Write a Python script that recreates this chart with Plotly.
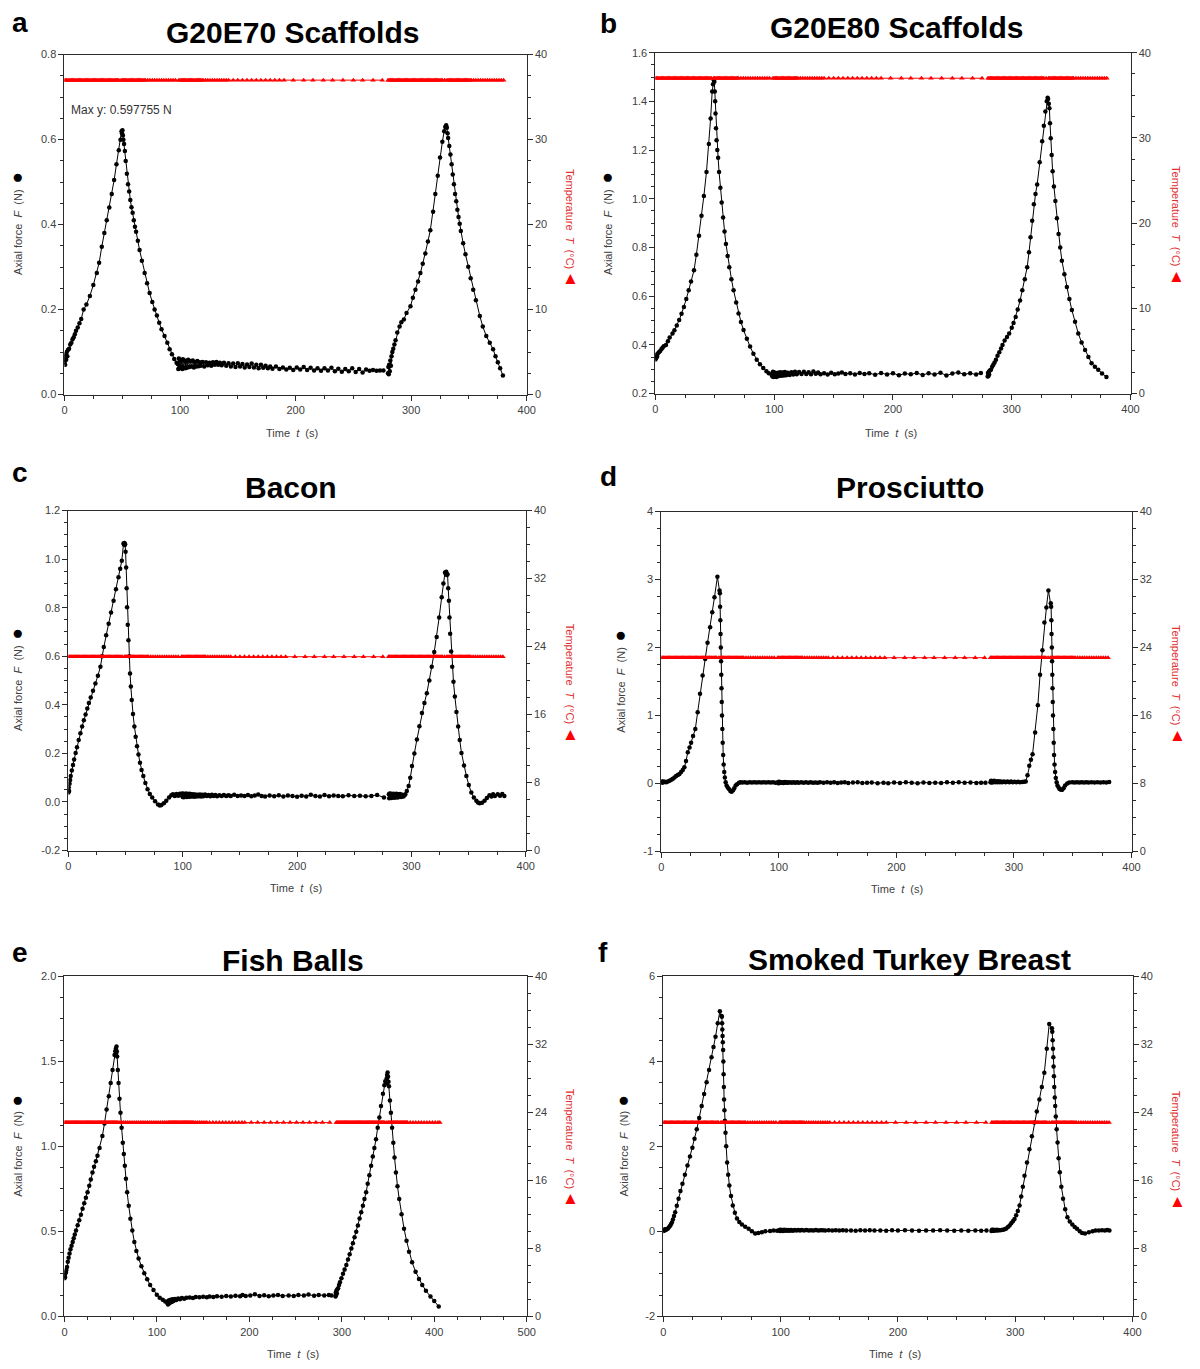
import plotly.graph_objects as go

W, H = 1200, 1369
PAGE_MARGIN = 8          # default body margin of the html page
FIG_W, FIG_H = W - 2 * PAGE_MARGIN, H - 2 * PAGE_MARGIN

# ---------------- data ----------------
TEMP_SCAFFOLD = 37.0   # degC, panels a and b
TEMP_FOOD = 22.8       # degC, panels c - f

# sample times of the temperature log (s), 400 s protocol
TEMP_T1 = [0, 1, 2, 3, 4, 5, 6, 7, 8, 9, 10, 11, 12, 13, 14, 15, 16, 17, 18, 19, 20, 21, 22, 23,
           24, 25, 26, 27, 28, 29, 30, 31, 32, 33, 34, 35, 36, 37, 38, 39, 40, 41, 42, 43, 44, 45,
           46, 47, 49, 50, 51, 52, 53, 54, 55, 56, 57, 58, 59, 60, 61, 62, 63, 64, 65, 66, 67, 68,
           69, 70, 72, 74, 76, 78, 80, 82, 84, 86, 88, 90, 92, 94, 96, 99, 100, 101, 102, 103, 104,
           105, 106, 107, 108, 109, 110, 111, 112, 113, 114, 115, 116, 117, 118, 119, 120, 122, 124,
           126, 128, 130, 132, 134, 136, 138, 140, 142, 146, 150, 154, 158, 162, 166, 170, 174, 178,
           182, 186, 190, 198, 207, 215, 224, 232, 241, 250, 258, 267, 275]
TEMP_T2 = [280, 281, 282, 283, 284, 285, 286, 287, 288, 289, 290, 291, 292, 293, 294, 295, 296,
           297, 298, 299, 300, 301, 302, 303, 304, 305, 306, 307, 308, 309, 310, 311, 312, 313, 314,
           315, 316, 317, 318, 319, 320, 321, 322, 323, 324, 325, 326, 327, 329, 331, 332, 333, 334,
           335, 336, 337, 338, 339, 340, 341, 342, 343, 344, 345, 346, 347, 348, 349, 350, 351, 352,
           354, 356, 358, 360, 362, 364, 366, 368, 370, 372, 374, 376, 378, 380]
# temperature log for the fish balls run (500 s axis)
FB_TEMP_T1 = [0, 1, 2, 3, 4, 5, 6, 7, 8, 9, 10, 11, 12, 13, 14, 15, 16, 17, 18, 19, 20, 21, 22, 23,
              24, 25, 26, 27, 28, 29, 30, 31, 32, 33, 34, 35, 36, 37, 38, 39, 40, 41, 42, 43, 44, 45,
              46, 47, 48, 49, 50, 51, 52, 53, 54, 55, 56, 57, 58, 60, 62, 64, 66, 68, 70, 72, 74, 76,
              78, 80, 82, 84, 86, 88, 90, 92, 94, 96, 98, 100, 102, 104, 106, 108, 110, 112, 113, 114,
              115, 116, 117, 118, 119, 120, 121, 122, 123, 124, 125, 126, 127, 128, 129, 130, 131, 132,
              133, 134, 135, 136, 137, 138, 139, 140, 142, 144, 146, 148, 150, 152, 154, 157, 160.5,
              164, 167.5, 171, 174.5, 178, 181.5, 185, 188.5, 192, 195, 202, 209, 216, 223, 230, 237,
              244, 251, 258, 265, 272, 279, 287]
FB_TEMP_T2 = [294, 295, 296, 297, 298, 299, 300, 301, 302, 303, 304, 305, 306, 307, 308, 309, 310,
              311, 312, 313, 314, 315, 316, 317, 318, 319, 320, 321, 322, 323, 324, 325, 326, 327, 328,
              329, 330, 331, 332, 333, 334, 335, 336, 337, 338, 339, 340, 341, 342, 343, 344, 345, 346,
              348, 350, 351, 352, 353, 354, 355, 356, 357, 358, 359, 360, 361, 362, 363, 364, 365, 366,
              367, 368, 369, 370, 371, 374, 377, 380, 383, 386, 389, 392, 395, 398, 401, 404, 406]

# axial force (t [s], F [N]); each run = loading cycle 1 + hold, then cycle 2
A_CYCLE1 = [(0, 0.076), (0.3, 0.09), (0.6, 0.07), (1, 0.095), (1.5, 0.082), (2, 0.1), (2.5, 0.09),
            (3, 0.105), (4, 0.108), (5, 0.118), (6, 0.122), (7, 0.13), (8, 0.135), (9, 0.142),
            (10, 0.15), (11.5, 0.158), (13, 0.168), (14.5, 0.178), (16.6, 0.2), (19, 0.212),
            (22, 0.232), (25, 0.258), (28, 0.286), (30, 0.31), (32.3, 0.348), (34.5, 0.38),
            (36.6, 0.41), (38.8, 0.44), (40.9, 0.472), (43, 0.505), (45, 0.542), (47, 0.575),
            (48.5, 0.6), (49.4, 0.62), (49.8, 0.615), (50.2, 0.622), (50.6, 0.61), (51, 0.6),
            (51.6, 0.59), (52.3, 0.573), (53, 0.55), (54, 0.52), (55, 0.495), (56, 0.478),
            (57, 0.458), (58, 0.441), (59, 0.428), (60, 0.41), (61, 0.395), (62, 0.383),
            (63.5, 0.362), (65, 0.34), (67, 0.315), (69.4, 0.286), (71.5, 0.262), (73.7, 0.239),
            (76, 0.218), (78, 0.2), (80, 0.186), (82, 0.169), (84, 0.154), (86.6, 0.138),
            (89, 0.122), (91, 0.107), (93, 0.095), (95, 0.084), (97, 0.075), (98, 0.072)]
A_HOLD = [(98.5, 0.06), (99, 0.085), (99.5, 0.062), (100, 0.082), (100.5, 0.065), (101, 0.08),
          (102, 0.06), (102.5, 0.083), (103, 0.064), (104, 0.08), (104.5, 0.062), (105, 0.078),
          (106, 0.063), (107, 0.082), (108, 0.065), (109, 0.079), (110, 0.066), (111, 0.08),
          (112, 0.064), (113, 0.077), (114, 0.066), (115, 0.079), (116, 0.067), (117, 0.076),
          (118, 0.068), (119.5, 0.077), (121, 0.066), (122.5, 0.076), (124, 0.069), (125.5, 0.075),
          (127, 0.068), (128.5, 0.076), (130, 0.07), (131.5, 0.077), (133, 0.07), (134.5, 0.075),
          (136, 0.069), (138, 0.075), (140, 0.068), (142, 0.074), (144, 0.066), (146, 0.073),
          (148, 0.065), (150, 0.074), (152, 0.066), (154, 0.072), (156, 0.064), (158, 0.071),
          (160, 0.065), (162, 0.073), (164, 0.064), (166, 0.07), (168, 0.062), (170, 0.07),
          (172, 0.063), (174, 0.068), (176, 0.062), (178, 0.066), (180, 0.061), (183, 0.066),
          (186, 0.06), (189, 0.064), (192, 0.059), (195, 0.063), (198, 0.058), (201, 0.064),
          (204, 0.059), (207, 0.065), (210, 0.058), (213, 0.063), (216, 0.057), (219, 0.062),
          (222, 0.056), (225, 0.062), (228, 0.057), (231, 0.063), (234, 0.055), (237, 0.061),
          (240, 0.054), (243, 0.06), (246, 0.055), (249, 0.062), (252, 0.053), (255, 0.06),
          (258, 0.052), (261, 0.059), (264, 0.056), (267, 0.058), (270, 0.056), (273, 0.057),
          (276, 0.057)]
A_CYCLE2 = [(280, 0.05), (280.3, 0.065), (280.6, 0.048), (281, 0.07), (281.5, 0.055), (282, 0.08),
            (282.5, 0.068), (283, 0.09), (283.7, 0.1), (284.5, 0.108), (285.5, 0.118),
            (286.5, 0.128), (288, 0.146), (290, 0.16), (291.5, 0.17), (293.7, 0.177), (296, 0.192),
            (299.4, 0.208), (301.5, 0.228), (303.7, 0.247), (306, 0.266), (308, 0.286),
            (310, 0.308), (312.3, 0.332), (314.5, 0.36), (316.6, 0.387), (319, 0.43),
            (320.9, 0.472), (323, 0.515), (325, 0.558), (327, 0.595), (328.6, 0.62), (329.5, 0.63),
            (330.3, 0.634), (330.9, 0.628), (331.5, 0.615), (332, 0.604), (333, 0.585),
            (334, 0.565), (335, 0.542), (336, 0.518), (337, 0.495), (338, 0.472), (339, 0.455),
            (340, 0.435), (341, 0.418), (342, 0.402), (343, 0.385), (345, 0.356), (347, 0.33),
            (349.4, 0.301), (351.5, 0.274), (353.7, 0.247), (356, 0.222), (359.4, 0.185),
            (362, 0.16), (365, 0.138), (368, 0.122), (370.9, 0.107), (373, 0.09), (375, 0.076),
            (377, 0.062), (379.4, 0.045)]

B_CYCLE1 = [(0, 0.34), (0.3, 0.355), (0.6, 0.345), (1, 0.36), (1.5, 0.352), (2, 0.365), (3, 0.37),
            (4, 0.375), (5, 0.382), (6, 0.388), (7, 0.394), (8.9, 0.4), (10.5, 0.415), (12, 0.43),
            (14.4, 0.447), (16, 0.46), (18, 0.48), (20, 0.502), (22, 0.528), (24, 0.556),
            (26, 0.588), (28, 0.624), (30, 0.66), (32.5, 0.706), (34.5, 0.77), (36.7, 0.848),
            (38.8, 0.93), (40.8, 1.011), (43, 1.11), (45, 1.225), (46.5, 1.33), (47.8, 1.44),
            (48.5, 1.47), (49.2, 1.487), (49.6, 1.48), (50, 1.44), (50.3, 1.4), (50.6, 1.35),
            (51, 1.29), (51.5, 1.24), (52.1, 1.2), (52.8, 1.168), (53.6, 1.11), (54.7, 1.045),
            (55.8, 0.985), (57, 0.923), (58.2, 0.866), (59.4, 0.814), (60.8, 0.765), (62.2, 0.719),
            (64, 0.67), (65.8, 0.624), (68, 0.574), (70, 0.529), (72, 0.494), (74.2, 0.461),
            (77, 0.425), (79.7, 0.393), (82.5, 0.364), (85.3, 0.339), (88, 0.32), (90.8, 0.305),
            (93.5, 0.292), (95.5, 0.284), (97.8, 0.277)]
B_HOLD = [(98.5, 0.27), (99, 0.29), (99.5, 0.268), (100, 0.287), (100.5, 0.27), (101, 0.285),
          (102, 0.268), (103, 0.286), (104, 0.272), (105, 0.288), (106, 0.273), (107, 0.287),
          (108, 0.274), (109, 0.289), (110, 0.275), (111.5, 0.286), (113, 0.276), (114.5, 0.288),
          (116, 0.278), (117.5, 0.29), (119, 0.279), (121, 0.289), (123, 0.28), (125, 0.29),
          (127, 0.28), (129, 0.288), (131, 0.279), (133, 0.291), (135, 0.281), (137, 0.287),
          (139, 0.279), (142, 0.284), (145, 0.278), (148, 0.286), (151, 0.279), (154, 0.283),
          (157, 0.287), (160, 0.28), (164, 0.284), (168, 0.278), (172, 0.285), (176, 0.28),
          (180, 0.284), (185, 0.277), (190, 0.285), (195, 0.278), (200, 0.284), (205, 0.275),
          (210, 0.283), (215, 0.279), (220, 0.285), (225, 0.276), (230, 0.284), (235, 0.278),
          (240, 0.286), (245, 0.274), (250, 0.283), (255, 0.287), (260, 0.279), (265, 0.284),
          (270, 0.278), (274, 0.285)]
B_CYCLE2 = [(279.7, 0.27), (280, 0.285), (280.3, 0.272), (280.7, 0.29), (281, 0.278),
            (281.5, 0.295), (282.5, 0.298), (283.5, 0.31), (284.5, 0.318), (285.5, 0.328),
            (286.7, 0.339), (288, 0.355), (289.5, 0.37), (291, 0.385), (292.2, 0.4), (294, 0.418),
            (296, 0.432), (297.8, 0.447), (300, 0.47), (301.5, 0.49), (303.3, 0.515),
            (305, 0.545), (307, 0.582), (308.9, 0.624), (311, 0.67), (313, 0.719), (314.5, 0.78),
            (315.8, 0.842), (317.2, 0.91), (318.6, 0.977), (320, 1.02), (321.4, 1.059),
            (323.5, 1.15), (325.6, 1.236), (327, 1.3), (328.3, 1.358), (329.5, 1.4),
            (330.2, 1.415), (330.6, 1.41), (331.2, 1.39), (331.7, 1.372), (332.2, 1.31),
            (332.8, 1.249), (333.6, 1.18), (334.4, 1.113), (335.5, 1.05), (336.7, 0.991),
            (338, 0.92), (339.4, 0.855), (340.8, 0.8), (342.2, 0.746), (344.3, 0.69),
            (346.4, 0.638), (348.5, 0.588), (350.6, 0.543), (353.3, 0.495), (356, 0.447),
            (358.8, 0.41), (361.7, 0.379), (364.5, 0.35), (367.2, 0.325), (370, 0.31),
            (372.8, 0.298), (376, 0.283), (379.7, 0.268)]

C_CYCLE1 = [(0, 0.039), (0.3, 0.06), (0.6, 0.045), (1, 0.075), (1.5, 0.09), (2, 0.107), (3, 0.13),
            (4, 0.152), (5, 0.175), (6.3, 0.202), (7.5, 0.225), (9, 0.255), (10.5, 0.283),
            (12, 0.311), (13.5, 0.336), (15, 0.36), (16.5, 0.385), (17.9, 0.407), (19.5, 0.43),
            (21.5, 0.458), (23.6, 0.488), (25.8, 0.52), (28, 0.557), (29.5, 0.6), (30.9, 0.638),
            (33, 0.686), (35.2, 0.734), (37.3, 0.78), (39.5, 0.829), (41.6, 0.876), (43.8, 0.925),
            (45.3, 0.96), (46.7, 0.993), (48.2, 1.064), (48.6, 1.06), (49, 1.066), (49.3, 1.058),
            (49.6, 1.061), (50, 1.03), (50.5, 0.966), (50.9, 0.88), (51.3, 0.802), (51.9, 0.73),
            (52.5, 0.666), (53.2, 0.6), (53.9, 0.529), (54.6, 0.475), (55.4, 0.42), (56.5, 0.362),
            (57.7, 0.311), (58.8, 0.268), (60, 0.229), (61.3, 0.195), (62.6, 0.161), (64, 0.132),
            (65.5, 0.107), (67.3, 0.078), (69.2, 0.052), (71.2, 0.033), (73.3, 0.018),
            (75.8, 0.003), (78.4, -0.01), (80, -0.015), (81.3, -0.013), (83.5, -0.005),
            (85.6, 0.005), (88, 0.018), (90, 0.028), (91.4, 0.032), (93, 0.025), (94.5, 0.033),
            (96, 0.026), (97.5, 0.034), (98.6, 0.028)]
C_HOLD = [(99.5, 0.035), (100, 0.02), (100.5, 0.034), (101, 0.019), (101.5, 0.033), (102, 0.021),
          (103, 0.035), (103.5, 0.02), (104, 0.032), (105, 0.022), (105.5, 0.034), (106, 0.021),
          (107, 0.033), (108, 0.022), (109, 0.032), (110, 0.021), (111, 0.031), (112, 0.022),
          (113, 0.03), (114, 0.023), (115, 0.031), (116, 0.022), (117, 0.03), (118, 0.023),
          (119.5, 0.031), (121, 0.024), (122.5, 0.029), (124, 0.023), (125.5, 0.03), (127, 0.024),
          (128.5, 0.029), (130, 0.023), (132, 0.028), (134, 0.024), (136, 0.029), (138, 0.024),
          (140, 0.028), (142, 0.024), (145, 0.03), (148, 0.024), (151, 0.027), (154, 0.024),
          (157, 0.029), (160, 0.023), (163, 0.027), (166, 0.031), (169, 0.025), (172, 0.022),
          (176, 0.027), (180, 0.023), (184, 0.028), (188, 0.022), (192, 0.027), (196, 0.024),
          (200, 0.021), (204, 0.026), (208, 0.022), (212, 0.03), (216, 0.024), (220, 0.022),
          (224, 0.029), (228, 0.023), (232, 0.027), (236, 0.025), (240, 0.023), (245, 0.028),
          (250, 0.024), (255, 0.026), (260, 0.023), (265, 0.025), (270, 0.029), (276, 0.018)]
C_CYCLE2 = [(280.3, 0.032), (280.6, 0.015), (281, 0.035), (281.5, 0.018), (282, 0.034),
            (282.5, 0.016), (283, 0.033), (283.7, 0.019), (284.3, 0.034), (285, 0.017),
            (285.7, 0.033), (286.4, 0.019), (287, 0.034), (287.8, 0.018), (288.5, 0.032),
            (289.3, 0.02), (290, 0.033), (291, 0.02), (292, 0.03), (293, 0.022), (294, 0.028),
            (294.7, 0.032), (296, 0.045), (297.6, 0.066), (299, 0.1), (300.5, 0.148),
            (302.6, 0.2), (304.8, 0.257), (307, 0.312), (309.2, 0.366), (311.4, 0.408),
            (313.5, 0.448), (315.7, 0.5), (317.8, 0.557), (320, 0.618), (322.1, 0.679),
            (324.3, 0.76), (326.5, 0.843), (328, 0.9), (329.4, 0.945), (330, 0.94), (330.5, 0.948),
            (331, 0.935), (331.6, 0.938), (332.2, 0.88), (332.8, 0.829), (333.3, 0.76),
            (333.9, 0.693), (334.8, 0.62), (335.7, 0.557), (336.8, 0.495), (338, 0.434),
            (339.4, 0.37), (340.9, 0.311), (342.3, 0.255), (343.8, 0.202), (346, 0.15),
            (348.1, 0.107), (350.2, 0.07), (352.4, 0.039), (354.6, 0.018), (356.8, 0.005),
            (358.2, -0.002), (359.6, -0.005), (361.8, -0.003), (364, 0.005), (366, 0.016),
            (368.3, 0.028), (370, 0.022), (371.5, 0.032), (373, 0.025), (375.5, 0.032),
            (377.5, 0.026), (379.5, 0.033), (381.3, 0.025)]

D_CYCLE1 = [(0, 0.01), (0.5, 0.03), (1, 0.015), (1.5, 0.03), (2, 0.02), (3, 0.025), (4.2, 0.02),
            (5.5, 0.03), (7, 0.04), (8.5, 0.055), (9.8, 0.07), (11.2, 0.09), (12.6, 0.11),
            (14, 0.125), (15.4, 0.14), (16.8, 0.17), (18.2, 0.2), (19.6, 0.24), (21, 0.33),
            (22.5, 0.46), (24, 0.53), (25.3, 0.6), (27, 0.7), (28.9, 0.8), (30.9, 1.05),
            (32.9, 1.32), (35.1, 1.59), (37.3, 1.83), (39.3, 2.07), (41.5, 2.3), (43.3, 2.52),
            (45.2, 2.74), (47.7, 3.04), (49.5, 2.84), (49.8, 2.8), (50, 2.6), (50.2, 2.4),
            (50.4, 2.2), (50.6, 2.0), (50.8, 1.8), (51, 1.6), (51.2, 1.4), (51.4, 1.2), (51.6, 1.0),
            (51.9, 0.8), (52.2, 0.6), (52.6, 0.42), (53, 0.28), (53.5, 0.17), (54, 0.09),
            (54.7, 0.02), (55.5, -0.03), (56.5, -0.06), (57.5, -0.08), (58.7, -0.11),
            (59.8, -0.12), (61, -0.1), (62, -0.07), (63.2, -0.03), (64.5, -0.01), (66, 0.01),
            (67.4, 0.02), (69, 0.015), (71, 0.02), (73, 0.012), (75, 0.02), (77, 0.015),
            (79, 0.02), (81, 0.015), (83, 0.018), (85, 0.014), (87, 0.02), (89, 0.016), (91, 0.02),
            (93, 0.014), (95, 0.018), (97, 0.012)]
D_HOLD = [(99, 0.02), (99.5, 0.005), (100, 0.025), (100.5, 0.008), (101, 0.022), (102, 0.01),
          (103, 0.02), (104, 0.008), (105, 0.022), (106, 0.01), (107, 0.02), (108, 0.01),
          (109.5, 0.02), (111, 0.012), (112.5, 0.02), (114, 0.01), (115.5, 0.018), (117, 0.012),
          (119, 0.02), (121, 0.01), (123, 0.018), (125, 0.012), (127, 0.02), (129, 0.01),
          (131, 0.016), (133, 0.012), (135, 0.02), (138, 0.01), (141, 0.017), (144, 0.012),
          (147, 0.02), (150, 0.008), (153, 0.015), (156, 0.018), (159, 0.008), (163, 0.014),
          (167, 0.018), (171, 0.006), (175, 0.012), (179, 0.016), (184, 0.005), (189, 0.012),
          (193, 0.004), (198, 0.015), (203, 0.008), (208, 0.018), (213, 0.01), (218, 0.004),
          (223, 0.016), (228, 0.008), (233, 0.012), (238, 0.006), (243, 0.018), (248, 0.01),
          (253, 0.02), (258, 0.012), (263, 0.016), (268, 0.008), (272, 0.012), (275.7, 0.01)]
D_CYCLE2 = [(280, 0.02), (280.5, 0.04), (281, 0.015), (281.5, 0.035), (282, 0.02), (283, 0.04),
            (284, 0.02), (285, 0.035), (286, 0.02), (287, 0.035), (288, 0.02), (289, 0.03),
            (290, 0.02), (291.5, 0.03), (293, 0.018), (294.5, 0.03), (296, 0.02), (297.5, 0.028),
            (299, 0.018), (300.5, 0.025), (302, 0.02), (303.5, 0.025), (305, 0.02), (307, 0.022),
            (308.5, 0.025), (310, 0.03), (311.5, 0.12), (313, 0.26), (314.4, 0.35),
            (315.8, 0.43), (318, 0.75), (320.3, 1.15), (322.2, 1.6), (324.2, 1.96),
            (325.9, 2.37), (327.6, 2.59), (329.3, 2.84), (331.3, 2.65), (331.6, 2.6),
            (331.8, 2.4), (332, 2.2), (332.2, 2.0), (332.4, 1.8), (332.6, 1.6), (332.8, 1.4),
            (333, 1.2), (333.2, 1.0), (333.5, 0.8), (333.8, 0.6), (334.1, 0.42), (334.5, 0.28),
            (335, 0.17), (335.6, 0.08), (336.3, 0.02), (337, -0.03), (338, -0.06),
            (338.8, -0.08), (340, -0.09), (341, -0.09), (342.2, -0.07), (343.5, -0.03),
            (345.3, 0.0), (347, 0.015), (349.5, 0.02), (351.5, 0.015), (353.5, 0.02),
            (355.5, 0.014), (357.5, 0.02), (359.5, 0.015), (361.5, 0.02), (363.5, 0.016),
            (366, 0.02), (368.5, 0.015), (371, 0.02), (373.5, 0.014), (376, 0.02), (378.5, 0.016),
            (381, 0.022)]

E_CYCLE1 = [(0, 0.224), (0.3, 0.24), (0.6, 0.23), (1, 0.253), (1.5, 0.26), (2, 0.272),
            (2.8, 0.29), (3.6, 0.321), (4.5, 0.345), (5.5, 0.37), (6.5, 0.395), (7.7, 0.415),
            (8.9, 0.438), (10, 0.46), (11.2, 0.482), (12.5, 0.505), (14.3, 0.536), (16, 0.565),
            (17.8, 0.598), (19.6, 0.633), (21.4, 0.665), (23.2, 0.698), (25, 0.73), (26.8, 0.768),
            (28.5, 0.805), (30.3, 0.847), (32, 0.88), (34, 0.912), (35.7, 0.945), (38, 0.99),
            (41, 1.061), (43.3, 1.135), (45.6, 1.217), (48, 1.295), (50, 1.373), (52, 1.45),
            (54.2, 1.538), (55, 1.56), (55.6, 1.575), (56, 1.55), (56.3, 1.587), (56.6, 1.56),
            (57, 1.529), (57.7, 1.45), (58.5, 1.373), (59.5, 1.28), (60.6, 1.198), (61.8, 1.11),
            (63.1, 1.022), (64.2, 0.955), (65.3, 0.886), (66.5, 0.81), (67.8, 0.73), (69.5, 0.65),
            (71.3, 0.574), (73.4, 0.505), (75.6, 0.438), (77.8, 0.385), (80.2, 0.341),
            (83.2, 0.295), (86.3, 0.253), (89.5, 0.218), (92.7, 0.185), (96.3, 0.155),
            (99.9, 0.127), (103, 0.11), (106.3, 0.097), (109, 0.087), (111.3, 0.078)]
E_HOLD = [(112, 0.07), (112.5, 0.092), (113, 0.075), (113.5, 0.095), (114, 0.08), (115, 0.098),
          (116, 0.085), (117, 0.1), (118, 0.09), (119.5, 0.102), (121, 0.096), (123, 0.105),
          (125, 0.1), (127, 0.108), (129.5, 0.104), (132, 0.11), (135.5, 0.111), (139, 0.108),
          (142, 0.114), (146, 0.112), (150, 0.116), (154, 0.113), (157, 0.117), (161, 0.114),
          (165, 0.118), (170, 0.116), (175, 0.12), (180, 0.117), (185, 0.121), (190, 0.118),
          (192.6, 0.126), (196, 0.119), (201, 0.123), (206, 0.13), (211, 0.12), (216, 0.124),
          (221, 0.118), (226, 0.122), (231, 0.126), (236, 0.119), (242.5, 0.123), (248, 0.12),
          (253, 0.126), (259, 0.122), (264, 0.128), (270, 0.121), (275, 0.126), (281, 0.123),
          (286, 0.125), (288.9, 0.123)]
E_CYCLE2 = [(293.2, 0.117), (293.5, 0.14), (293.8, 0.125), (294.2, 0.15), (294.6, 0.135),
            (295, 0.158), (296, 0.166), (297, 0.185), (298, 0.2), (299.6, 0.224), (301.3, 0.25),
            (303, 0.275), (304.9, 0.302), (306.7, 0.335), (308.5, 0.365), (310.3, 0.399),
            (312, 0.43), (313.8, 0.465), (315.6, 0.497), (317.4, 0.535), (319.2, 0.575),
            (321, 0.613), (322.8, 0.65), (324.5, 0.69), (326.3, 0.73), (328, 0.78), (329.8, 0.83),
            (331.7, 0.886), (333.5, 0.94), (335.2, 0.99), (337, 1.042), (338.8, 1.11),
            (340.6, 1.17), (342.4, 1.237), (344.5, 1.31), (346, 1.36), (347, 1.383), (348, 1.37),
            (348.5, 1.4), (349, 1.42), (349.5, 1.435), (350, 1.41), (350.5, 1.38), (351, 1.353),
            (352, 1.27), (353.1, 1.198), (354.4, 1.11), (355.7, 1.022), (357, 0.935),
            (358.5, 0.847), (360.2, 0.765), (362.1, 0.691), (364.6, 0.6), (367.3, 0.516),
            (370, 0.445), (372.7, 0.38), (376, 0.318), (379.8, 0.263), (383.5, 0.22), (387, 0.185),
            (391, 0.15), (395.9, 0.117), (400, 0.09), (404.8, 0.058)]

F_CYCLE1 = [(0, 0.01), (0.5, 0.04), (1, 0.02), (1.5, 0.05), (2, 0.03), (2.8, 0.05), (3.7, 0.06),
            (4.6, 0.09), (5.5, 0.12), (6.4, 0.16), (7.3, 0.21), (8.2, 0.28), (9.1, 0.36),
            (10.1, 0.45), (11.5, 0.6), (13, 0.77), (14.6, 0.95), (16.3, 1.12), (18.4, 1.33),
            (20.6, 1.55), (22.7, 1.76), (24.8, 1.97), (26.6, 2.18), (28.5, 2.4), (30.6, 2.67),
            (32.7, 2.95), (34.8, 3.23), (36.9, 3.51), (39, 3.8), (41.1, 4.1), (42.8, 4.34),
            (44.5, 4.58), (46.4, 4.9), (48.2, 5.18), (49.6, 5.07), (49.9, 5.05), (50.1, 4.9),
            (50.3, 4.75), (50.5, 4.6), (50.7, 4.45), (51, 4.27), (51.2, 4.0), (51.4, 3.7),
            (51.6, 3.4), (51.8, 3.1), (52.1, 2.85), (52.5, 2.6), (53, 2.32), (53.6, 2.0),
            (54.4, 1.62), (55.3, 1.33), (56.3, 1.08), (57.7, 0.83), (59.2, 0.61), (61, 0.44),
            (62.8, 0.3), (64.8, 0.22), (67, 0.16), (69.8, 0.11), (72.7, 0.06), (75.5, 0.0),
            (78.3, -0.05), (81, -0.04), (84, -0.02), (87, 0.0), (91, 0.01), (94, 0.02),
            (97, 0.015)]
F_HOLD = [(99, 0.03), (99.5, 0.01), (100, 0.035), (100.5, 0.015), (101, 0.03), (102, 0.01),
          (103, 0.035), (104, 0.015), (105, 0.03), (106, 0.012), (107, 0.03), (108, 0.015),
          (109, 0.032), (110.5, 0.015), (112, 0.03), (113.5, 0.018), (115, 0.032), (116.5, 0.02),
          (118, 0.03), (120, 0.018), (122, 0.03), (124, 0.02), (126, 0.028), (128, 0.02),
          (130, 0.03), (132, 0.02), (134, 0.028), (136, 0.025), (138, 0.02), (141, 0.025),
          (144, 0.02), (147, 0.024), (150, 0.02), (153, 0.025), (156, 0.018), (160, 0.022),
          (164, 0.016), (168, 0.025), (172, 0.02), (176, 0.024), (180, 0.02), (185, 0.022),
          (190, 0.015), (195, 0.024), (200, 0.018), (206, 0.025), (212, 0.02), (218, 0.015),
          (224, 0.022), (230, 0.018), (236, 0.024), (242, 0.02), (248, 0.014), (254, 0.022),
          (260, 0.016), (266, 0.02), (271, 0.014), (275.5, 0.02)]
F_CYCLE2 = [(279.7, 0.01), (280.2, 0.04), (280.7, 0.015), (281.2, 0.035), (281.8, 0.015),
            (282.5, 0.03), (283.3, 0.02), (284.2, 0.035), (285, 0.02), (286, 0.03), (287, 0.025),
            (288.3, 0.03), (289.6, 0.04), (291, 0.05), (292.4, 0.07), (293.8, 0.1), (295.2, 0.14),
            (296.6, 0.19), (298, 0.24), (299.4, 0.29), (300.8, 0.38), (302.2, 0.48),
            (303.7, 0.61), (305.1, 0.82), (306.5, 1.05), (307.9, 1.31), (310, 1.62),
            (312.1, 1.93), (314.2, 2.24), (316.3, 2.56), (318.4, 2.82), (320.6, 3.1),
            (322.7, 3.4), (324.8, 3.73), (326.9, 4.3), (329, 4.88), (331.3, 4.78), (331.6, 4.7),
            (331.9, 4.5), (332.2, 4.3), (332.5, 4.1), (332.7, 3.88), (333, 3.65), (333.3, 3.4),
            (333.7, 3.15), (334.1, 2.95), (334.6, 2.7), (335.3, 2.4), (336.1, 2.09), (337, 1.72),
            (338, 1.39), (339.3, 1.05), (340.8, 0.77), (342.6, 0.52), (344.5, 0.33),
            (346.5, 0.23), (348.7, 0.16), (350.7, 0.1), (352.7, 0.06), (355, 0.0), (357, -0.04),
            (359.5, -0.05), (362.8, -0.02), (366, 0.0), (368.5, 0.02), (371.3, 0.02),
            (374, 0.025), (376.5, 0.02), (378.5, 0.03), (380.3, 0.02)]

# tick labels of the force axes that go below zero (plain hyphen as in the original)
C_YTICKS = [-0.2, 0.0, 0.2, 0.4, 0.6, 0.8, 1.0, 1.2]
C_YLABELS = ["-0.2", "0.0", "0.2", "0.4", "0.6", "0.8", "1.0", "1.2"]
D_YTICKS = [-1, 0, 1, 2, 3, 4]
D_YLABELS = ["-1", "0", "1", "2", "3", "4"]
F_YTICKS = [-2, 0, 2, 4, 6]
F_YLABELS = ["-2", "0", "2", "4", "6"]

MAX_Y_TEXT = "Max y: 0.597755 N"


def join(*segments):
    # segments are separated by a gap (None) in the plotted line
    xs, ys = [], []
    for k, seg in enumerate(segments):
        if k:
            xs.append(None)
            ys.append(None)
        xs += [p[0] for p in seg]
        ys += [p[1] for p in seg]
    return xs, ys


# page pixel -> paper fraction (the page body keeps its 8 px margin)
def px(x):
    return (x - PAGE_MARGIN) / FIG_W


def py(y):
    return 1 - (y - PAGE_MARGIN) / FIG_H


# layout of every panel, in page pixels: plot box l, r, top, bottom
panels = [
    dict(letter="a", title="G20E70 Scaffolds", force=join(A_CYCLE1 + A_HOLD, A_CYCLE2),
         temp=(TEMP_T1, TEMP_T2, TEMP_SCAFFOLD), box=(62, 529, 49, 392),
         xr=[0, 400], yr=[0, 0.8], ydt=0.2, ymin=0.05, yfmt=".1f", ticks=None,
         tdt=10, tmin=2.5,
         lab=(292, 27), let=(17, 17), xt=(292, 431), yl=(15, 228), dot=(15, 172),
         yr_t=(573, 215), tri=(573, 275)),
    dict(letter="b", title="G20E80 Scaffolds", force=join(B_CYCLE1 + B_HOLD, B_CYCLE2),
         temp=(TEMP_T1, TEMP_T2, TEMP_SCAFFOLD), box=(659, 1139, 47, 391),
         xr=[0, 400], yr=[0.2, 1.6], ydt=0.2, ymin=0.05, yfmt=".1f", ticks=None,
         tdt=10, tmin=2.5,
         lab=(903, 22), let=(612, 18), xt=(897, 431), yl=(611, 228), dot=(611, 172),
         yr_t=(1185, 212), tri=(1185, 273)),
    dict(letter="c", title="Bacon", force=join(C_CYCLE1 + C_HOLD, C_CYCLE2),
         temp=(TEMP_T1, TEMP_T2, TEMP_FOOD), box=(66, 528, 509, 852),
         xr=[0, 400], yr=[-0.2, 1.2], ydt=0.2, ymin=0.05, yfmt=".1f",
         ticks=(C_YTICKS, C_YLABELS), tdt=8, tmin=2,
         lab=(291, 486), let=(17, 471), xt=(296, 890), yl=(15, 688), dot=(15, 632),
         yr_t=(573, 674), tri=(573, 735)),
    dict(letter="d", title="Prosciutto", force=join(D_CYCLE1 + D_HOLD, D_CYCLE2),
         temp=(TEMP_T1, TEMP_T2, TEMP_FOOD), box=(665, 1140, 510, 853),
         xr=[0, 400], yr=[-1, 4], ydt=1, ymin=0.25, yfmt="d",
         ticks=(D_YTICKS, D_YLABELS), tdt=8, tmin=2,
         lab=(916, 486), let=(612, 475), xt=(903, 891), yl=(624, 690), dot=(624, 634),
         yr_t=(1185, 675), tri=(1186, 736)),
    dict(letter="e", title="Fish Balls", force=join(E_CYCLE1 + E_HOLD, E_CYCLE2),
         temp=(FB_TEMP_T1, FB_TEMP_T2, TEMP_FOOD), box=(62, 529, 979, 1322),
         xr=[0, 500], yr=[0, 2.0], ydt=0.5, ymin=0.125, yfmt=".1f", ticks=None,
         tdt=8, tmin=2,
         lab=(293, 963), let=(17, 955), xt=(293, 1360), yl=(15, 1158), dot=(15, 1103),
         yr_t=(573, 1143), tri=(573, 1203)),
    dict(letter="f", title="Smoked Turkey Breast", force=join(F_CYCLE1 + F_HOLD, F_CYCLE2),
         temp=(TEMP_T1, TEMP_T2, TEMP_FOOD), box=(667, 1141, 979, 1322),
         xr=[0, 400], yr=[-2, 6], ydt=2, ymin=0.5, yfmt="d",
         ticks=(F_YTICKS, F_YLABELS), tdt=8, tmin=2,
         lab=(916, 962), let=(606, 955), xt=(901, 1360), yl=(627, 1158), dot=(627, 1103),
         yr_t=(1185, 1145), tri=(1186, 1206)),
]

FONT = "Liberation Sans, Arial, sans-serif"
AX = "#2b2b2b"
TICKFONT = dict(family=FONT, size=11, color="#404040")
NB = "\u00a0"

fig = go.Figure()
layout = dict(width=FIG_W, height=FIG_H, margin=dict(l=0, r=0, t=0, b=0),
              paper_bgcolor="white", plot_bgcolor="white", showlegend=False,
              font=dict(family=FONT))
notes = []


def axis_style(dtick, minor_dt):
    return dict(showline=True, linecolor=AX, linewidth=1, showgrid=False, zeroline=False,
                ticks="outside", ticklen=5, tickwidth=1, tickcolor=AX, dtick=dtick, tick0=0,
                tickfont=TICKFONT,
                minor=dict(tickmode="linear", dtick=minor_dt, tick0=0, ticks="outside",
                           ticklen=3, tickcolor=AX, showgrid=False))


def ann(pos, text, size, color="black", angle=0, xanchor="center"):
    notes.append(dict(x=px(pos[0]), y=py(pos[1]), xref="paper", yref="paper", text=text,
                      showarrow=False, textangle=angle, xanchor=xanchor, yanchor="middle",
                      font=dict(family=FONT, size=size, color=color)))


for i, p in enumerate(panels, 1):
    l, r, t, b = p["box"]
    xs, ys = p["force"]
    t1, t2, tval = p["temp"]
    xa, ya, ya2 = f"x{i}", f"y{i}", f"y{i + 6}"

    fig.add_trace(go.Scatter(x=xs, y=ys, mode="lines+markers", xaxis=xa, yaxis=ya,
                             line=dict(color="black", width=1),
                             marker=dict(color="black", size=4.5, symbol="circle")))
    tx = t1 + [None] + t2
    ty = [tval] * len(t1) + [None] + [tval] * len(t2)
    fig.add_trace(go.Scatter(x=tx, y=ty, mode="lines+markers", xaxis=xa, yaxis=ya2,
                             line=dict(color="#ff0000", width=1),
                             marker=dict(color="#ff0000", size=5, symbol="triangle-up")))

    xk = "xaxis" if i == 1 else f"xaxis{i}"
    yk = "yaxis" if i == 1 else f"yaxis{i}"
    layout[xk] = dict(axis_style(100, 25), domain=[px(l), px(r)], anchor=ya,
                      range=p["xr"], mirror=True)
    left = dict(axis_style(p["ydt"], p["ymin"]), domain=[py(b), py(t)], anchor=xa,
                range=p["yr"], tickformat=p["yfmt"])
    if p["ticks"]:
        left.update(tickmode="array", tickvals=p["ticks"][0], ticktext=p["ticks"][1])
    layout[yk] = left
    layout[f"yaxis{i + 6}"] = dict(axis_style(p["tdt"], p["tmin"]), overlaying=ya, side="right",
                                   anchor=xa, range=[0, 40])

    ann(p["lab"], f"<b>{p['title']}</b>", 30)
    ann(p["let"], f"<b>{p['letter']}</b>", 28)
    ann(p["xt"], f"Time{NB}{NB}<i>t</i>{NB}{NB}(s)", 11, "#404040")
    ann(p["yl"], f"Axial force{NB}{NB}<i>F</i>{NB}{NB}(N)", 11, "#404040", angle=-90)
    ann(p["dot"], "\u25cf", 19)
    ann(p["yr_t"], f"Temperature{NB}{NB}<i>T</i>{NB}{NB}(\u00b0C)", 11, "#e03030", angle=90)
    ann(p["tri"], "\u25b2", 17, "#ff0000")

notes.append(dict(x=px(67), y=py(105), xref="paper", yref="paper", text=MAX_Y_TEXT,
                  showarrow=False, xanchor="left", yanchor="middle",
                  font=dict(family=FONT, size=12, color="#333333")))

layout["annotations"] = notes
fig.update_layout(**layout)
fig.write_html("out.html", config={"displayModeBar": False})
